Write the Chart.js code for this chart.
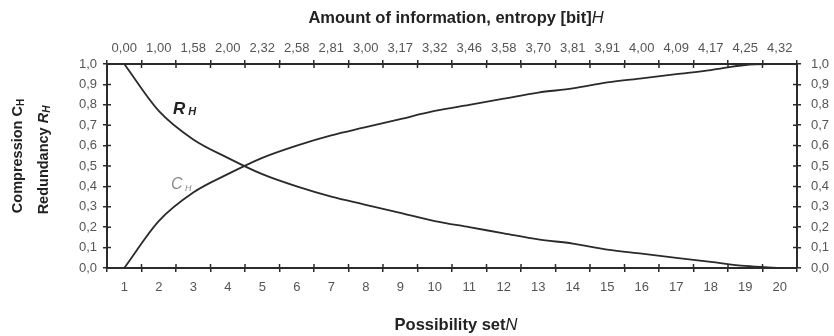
<!DOCTYPE html>
<html>
<head>
<meta charset="utf-8">
<script src="https://cdn.jsdelivr.net/npm/chart.js@4/dist/chart.umd.min.js"></script>
<style>
  html, body { margin: 0; padding: 0; background: #ffffff; }
  #wrap { width: 834px; height: 336px; }
</style>
</head>
<body>
<div id="wrap"><canvas id="c" width="834" height="336"></canvas></div>
<script>
// ---- data ----
const possibilitySet = ['1','2','3','4','5','6','7','8','9','10','11','12','13','14','15','16','17','18','19','20'];
const entropyLabels = ['0,00','1,00','1,58','2,00','2,32','2,58','2,81','3,00','3,17','3,32','3,46','3,58','3,70','3,81','3,91','4,00','4,09','4,17','4,25','4,32'];
const compression = [0.00,0.23,0.37,0.46,0.54,0.60,0.65,0.69,0.73,0.77,0.80,0.83,0.86,0.88,0.91,0.93,0.95,0.97,0.995,1.00];
const redundancy  = [1.00,0.77,0.63,0.54,0.46,0.40,0.35,0.31,0.27,0.23,0.20,0.17,0.14,0.12,0.09,0.07,0.05,0.03,0.01,0.00];
const yTickValues = [0,0.1,0.2,0.3,0.4,0.5,0.6,0.7,0.8,0.9,1.0];

const FONT = "'Liberation Sans', Arial, sans-serif";
const AXIS_COLOR = '#2b2b2b';
const TICK_COLOR = '#555555';

function fmtComma(v){ return v.toFixed(1).replace('.', ','); }

// draw text made of several styled parts, centred at (x,y)
function drawRich(ctx, parts, x, y){
  let total = 0;
  parts.forEach(p => { ctx.font = p.font; p.w = ctx.measureText(p.text).width; total += p.w; });
  let cx = x - total / 2;
  parts.forEach(p => {
    ctx.font = p.font;
    ctx.fillStyle = p.color || '#222';
    ctx.textAlign = 'left';
    ctx.textBaseline = 'middle';
    ctx.fillText(p.text, cx, y + (p.dy || 0));
    cx += p.w;
  });
}

const decorPlugin = {
  id: 'decor',
  beforeDraw(chart){
    const ctx = chart.ctx;
    ctx.save();
    ctx.fillStyle = '#ffffff';
    ctx.fillRect(0, 0, chart.width, chart.height);
    ctx.restore();
  },
  afterDraw(chart){
    const ctx = chart.ctx;
    const a = chart.chartArea;
    const xs = chart.scales.x, ys = chart.scales.y;
    ctx.save();
    // inner tick marks (the reference ticks cross the axis lines)
    ctx.strokeStyle = AXIS_COLOR;
    ctx.lineWidth = 1.5;
    const inner = 4;
    const n = possibilitySet.length;
    const band = (a.right - a.left) / n;
    ctx.beginPath();
    for (let k = 0; k <= n; k++){
      const px = a.left + k * band;
      ctx.moveTo(px, a.bottom); ctx.lineTo(px, a.bottom - inner);
      ctx.moveTo(px, a.top); ctx.lineTo(px, a.top + inner);
    }
    yTickValues.forEach(v => {
      const py = ys.getPixelForValue(v);
      ctx.moveTo(a.left, py); ctx.lineTo(a.left + inner, py);
      ctx.moveTo(a.right, py); ctx.lineTo(a.right - inner, py);
    });
    ctx.stroke();

    const cxm = (a.left + a.right) / 2;
    // top title
    drawRich(ctx, [
      {text: 'Amount of information, entropy [bit]', font: 'bold 16.5px ' + FONT},
      {text: 'H', font: 'italic 16.5px ' + FONT}
    ], cxm + 4, 18);
    // bottom title
    drawRich(ctx, [
      {text: 'Possibility set', font: 'bold 16.5px ' + FONT},
      {text: 'N', font: 'italic 16.5px ' + FONT}
    ], cxm + 4, 325);
    // left titles (rotated)
    ctx.save();
    ctx.translate(18, 156);
    ctx.rotate(-Math.PI / 2);
    drawRich(ctx, [
      {text: 'Compression ', font: 'bold 14.5px ' + FONT},
      {text: 'C', font: 'bold 14.5px ' + FONT},
      {text: 'H', font: 'bold 10px ' + FONT, dy: 3}
    ], 0, 0);
    ctx.restore();
    ctx.save();
    ctx.translate(44, 160);
    ctx.rotate(-Math.PI / 2);
    drawRich(ctx, [
      {text: 'Redundancy ', font: 'bold 14.5px ' + FONT},
      {text: 'R', font: 'italic bold 14.5px ' + FONT},
      {text: 'H', font: 'italic bold 10px ' + FONT, dy: 3}
    ], 0, 0);
    ctx.restore();

    // curve labels placed in data coordinates
    const rx = xs.getPixelForValue(1.75), ry = ys.getPixelForValue(0.78);
    drawRich(ctx, [
      {text: 'R', font: 'italic bold 17px ' + FONT, color: '#222'},
      {text: ' H', font: 'italic bold 11px ' + FONT, color: '#222', dy: 3}
    ], rx, ry);
    const cx2 = xs.getPixelForValue(1.65), cy2 = ys.getPixelForValue(0.41);
    drawRich(ctx, [
      {text: 'C', font: 'italic 16px ' + FONT, color: '#8a8a8a'},
      {text: ' H', font: 'italic 9px ' + FONT, color: '#8a8a8a', dy: 4}
    ], cx2, cy2);
    ctx.restore();
  }
};

const gridStyle = {
  drawOnChartArea: false,
  drawTicks: true,
  tickLength: 4,
  color: AXIS_COLOR,
  lineWidth: 1.5,
  offset: true
};
const borderStyle = { display: true, color: AXIS_COLOR, width: 2 };

new Chart(document.getElementById('c'), {
  type: 'line',
  data: {
    labels: possibilitySet,
    datasets: [
      { label: 'C_H', data: compression, xAxisID: 'x', yAxisID: 'y',
        borderColor: '#2a2a2a', borderWidth: 1.8, pointRadius: 0, fill: false,
        cubicInterpolationMode: 'monotone' },
      { label: 'R_H', data: redundancy, xAxisID: 'x', yAxisID: 'y',
        borderColor: '#2a2a2a', borderWidth: 1.8, pointRadius: 0, fill: false,
        cubicInterpolationMode: 'monotone' }
    ]
  },
  options: {
    responsive: false,
    animation: false,
    devicePixelRatio: 1,
    layout: { padding: 0 },
    plugins: { legend: { display: false }, tooltip: { enabled: false } },
    scales: {
      x: {
        type: 'category', position: 'bottom', offset: true,
        grid: gridStyle, border: borderStyle,
        ticks: { color: TICK_COLOR, font: { family: FONT, size: 13 }, padding: 8, maxRotation: 0, autoSkip: false },
        afterFit(s){ s.height = 68; }
      },
      x2: {
        type: 'category', position: 'top', offset: true, labels: entropyLabels,
        grid: gridStyle, border: borderStyle,
        ticks: { color: TICK_COLOR, font: { family: FONT, size: 13 }, padding: 4, maxRotation: 0, autoSkip: false },
        afterFit(s){ s.height = 64; }
      },
      y: {
        type: 'linear', position: 'left', min: 0, max: 1,
        afterBuildTicks(s){ s.ticks = yTickValues.map(v => ({ value: v })); },
        grid: Object.assign({}, gridStyle, { offset: false }), border: borderStyle,
        ticks: { color: TICK_COLOR, font: { family: FONT, size: 13 }, padding: 6, callback: v => fmtComma(v) },
        afterFit(s){ s.width = 107; }
      },
      y2: {
        type: 'linear', position: 'right', min: 0, max: 1,
        afterBuildTicks(s){ s.ticks = yTickValues.map(v => ({ value: v })); },
        grid: Object.assign({}, gridStyle, { offset: false }), border: borderStyle,
        ticks: { color: TICK_COLOR, font: { family: FONT, size: 13 }, padding: 10, callback: v => fmtComma(v) },
        afterFit(s){ s.width = 37; }
      }
    }
  },
  plugins: [decorPlugin]
});
</script>
</body>
</html>
